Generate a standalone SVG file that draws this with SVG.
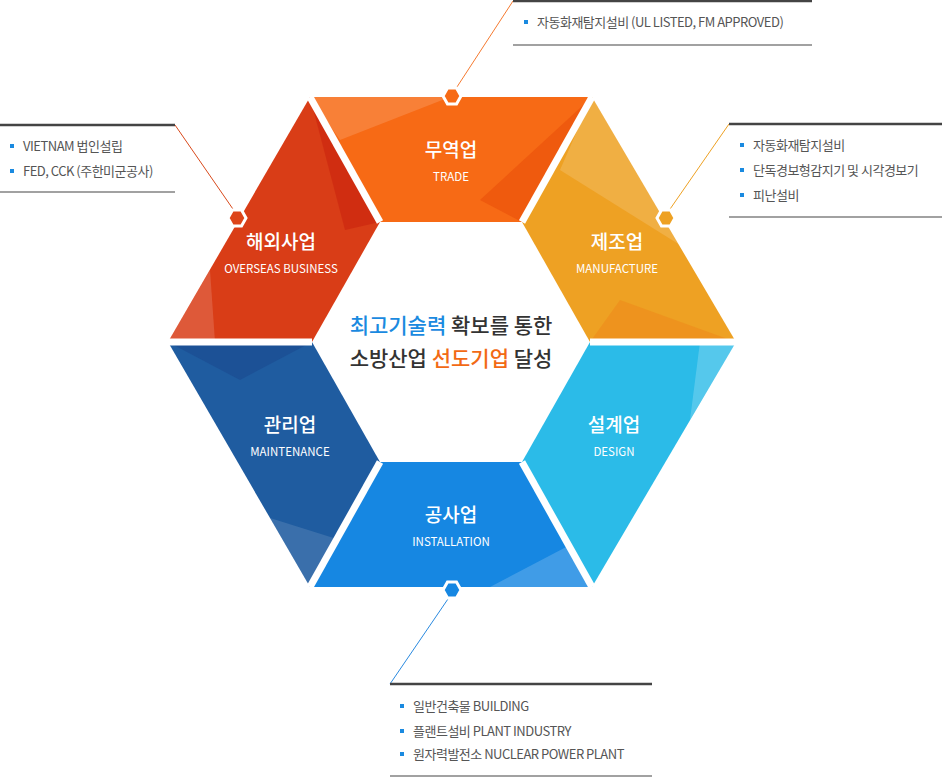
<svg xmlns="http://www.w3.org/2000/svg" width="942" height="777" viewBox="0 0 942 777">
<style>
.t{font-family:"Noto Sans CJK KR","Noto Sans",sans-serif;fill:#fff;text-anchor:middle}
.k{font-size:19px;font-weight:500}
.e{font-size:11.5px}
.c{font-family:"Noto Sans CJK KR","Noto Sans",sans-serif;font-size:13px;fill:#555;letter-spacing:-0.5px}
.b{fill:#1a8ae0}
.thick{stroke:#444;stroke-width:2.5}
.thin{stroke:#444;stroke-width:1.2}
.m{font-family:"Noto Sans CJK KR","Noto Sans",sans-serif;font-size:21px;font-weight:500;text-anchor:middle;fill:#333}
</style>
<rect width="942" height="777" fill="#fff"/>
<g id="seg-trade">
<polygon points="310,97 592,97 522,222 380,222" fill="#f76a15"/>
<polygon points="310,97 450,97 340,140" fill="#fff" opacity="0.15"/>
<polygon points="592,97 522,222 480,200" fill="#e84a08" opacity="0.5"/>
<text class="t k" x="451" y="157">무역업</text><text class="t e" x="451" y="181">TRADE</text>
</g>
<g id="seg-manufacture">
<polygon points="592,97 736,342 590,342 522,222" fill="#eea123"/>
<polygon points="592,97 680,245 560,170" fill="#fff" opacity="0.15"/>
<polygon points="590,342 736,342 620,300" fill="#ee8a1a" opacity="0.6"/>
<text class="t k" x="617" y="249">제조업</text><text class="t e" x="617" y="273">MANUFACTURE</text>
</g>
<g id="seg-design">
<polygon points="736,342 592,587 522,462 590,342" fill="#2bbbe8"/>
<polygon points="736,342 700,342 690,420" fill="#fff" opacity="0.2"/>
<text class="t k" x="614" y="432">설계업</text><text class="t e" x="614" y="456">DESIGN</text>
</g>
<g id="seg-installation">
<polygon points="592,587 310,587 380,462 522,462" fill="#1687e2"/>
<polygon points="592,587 490,587 570,545" fill="#fff" opacity="0.18"/>
<text class="t k" x="451" y="522">공사업</text><text class="t e" x="451" y="546">INSTALLATION</text>
</g>
<g id="seg-maintenance">
<polygon points="310,587 168,342 312,342 380,462" fill="#1f5ca0"/>
<polygon points="168,342 312,342 240,380" fill="#1a4a90" opacity="0.6"/>
<polygon points="310,587 270,518 340,540" fill="#fff" opacity="0.12"/>
<text class="t k" x="290" y="432">관리업</text><text class="t e" x="290" y="456">MAINTENANCE</text>
</g>
<g id="seg-overseas">
<polygon points="168,342 310,97 380,222 312,342" fill="#d93d17"/>
<polygon points="168,342 210,270 215,342" fill="#fff" opacity="0.15"/>
<polygon points="310,97 380,222 345,230" fill="#c81e0c" opacity="0.5"/>
<text class="t k" x="281" y="249">해외사업</text><text class="t e" x="281" y="273">OVERSEAS BUSINESS</text>
</g>
<g id="gaps" stroke="#fff" stroke-width="7">
<line x1="310" y1="97" x2="380" y2="222"/><line x1="592" y1="97" x2="522" y2="222"/>
<line x1="736" y1="342" x2="590" y2="342"/><line x1="592" y1="587" x2="522" y2="462"/>
<line x1="310" y1="587" x2="380" y2="462"/><line x1="168" y1="342" x2="312" y2="342"/>
</g>
<g id="center">
<text class="m" x="451" y="333"><tspan fill="#1a8ae0">최고기술력</tspan> 확보를 통한</text>
<text class="m" x="451" y="366">소방산업 <tspan fill="#f26a14">선도기업</tspan> 달성</text>
</g>
<g id="connectors" fill="none">
<line x1="513" y1="1" x2="455" y2="90" stroke="#f57a30"/>
<line x1="729" y1="124" x2="668" y2="212" stroke="#eea123"/>
<line x1="175" y1="125" x2="235" y2="212" stroke="#d94a1c"/>
<line x1="390" y1="684" x2="450" y2="596" stroke="#2a8ae0"/>
</g>
<g id="markers" stroke="#fff" stroke-width="3">
<polygon points="443,96 447.5,88 456.5,88 461,96 456.5,104 447.5,104" fill="#f76a15"/>
<polygon points="657,218 661.5,210 670.5,210 675,218 670.5,226 661.5,226" fill="#eea123"/>
<polygon points="228,218 232.5,210 241.5,210 246,218 241.5,226 232.5,226" fill="#dd451a"/>
<polygon points="443,590 447.5,582 456.5,582 461,590 456.5,598 447.5,598" fill="#1687e2"/>
</g>
<g id="callout-trade">
<line class="thick" x1="513" y1="1" x2="812" y2="1"/><line class="thin" x1="513" y1="45" x2="812" y2="45"/>
<rect class="b" x="524" y="20" width="4" height="4"/><text class="c" x="537" y="27">자동화재탐지설비 (UL LISTED, FM APPROVED)</text>
</g>
<g id="callout-manufacture">
<line class="thick" x1="729" y1="124" x2="942" y2="124"/><line class="thin" x1="729" y1="217" x2="942" y2="217"/>
<rect class="b" x="740" y="143" width="4" height="4"/><text class="c" x="753" y="150">자동화재탐지설비</text>
<rect class="b" x="740" y="168" width="4" height="4"/><text class="c" x="753" y="175">단독경보형감지기 및 시각경보기</text>
<rect class="b" x="740" y="193" width="4" height="4"/><text class="c" x="753" y="200">피난설비</text>
</g>
<g id="callout-overseas">
<line class="thick" x1="0" y1="125" x2="175" y2="125"/><line class="thin" x1="0" y1="192" x2="175" y2="192"/>
<rect class="b" x="10" y="144" width="4" height="4"/><text class="c" x="23" y="151">VIETNAM 법인설립</text>
<rect class="b" x="10" y="169" width="4" height="4"/><text class="c" x="23" y="176">FED, CCK (주한미군공사)</text>
</g>
<g id="callout-installation">
<line class="thick" x1="390" y1="684" x2="652" y2="684"/><line class="thin" x1="390" y1="776" x2="652" y2="776"/>
<rect class="b" x="400" y="704" width="4" height="4"/><text class="c" x="413" y="711">일반건축물 BUILDING</text>
<rect class="b" x="400" y="729" width="4" height="4"/><text class="c" x="413" y="736">플랜트설비 PLANT INDUSTRY</text>
<rect class="b" x="400" y="752" width="4" height="4"/><text class="c" x="413" y="759">원자력발전소 NUCLEAR POWER PLANT</text>
</g>
</svg>
